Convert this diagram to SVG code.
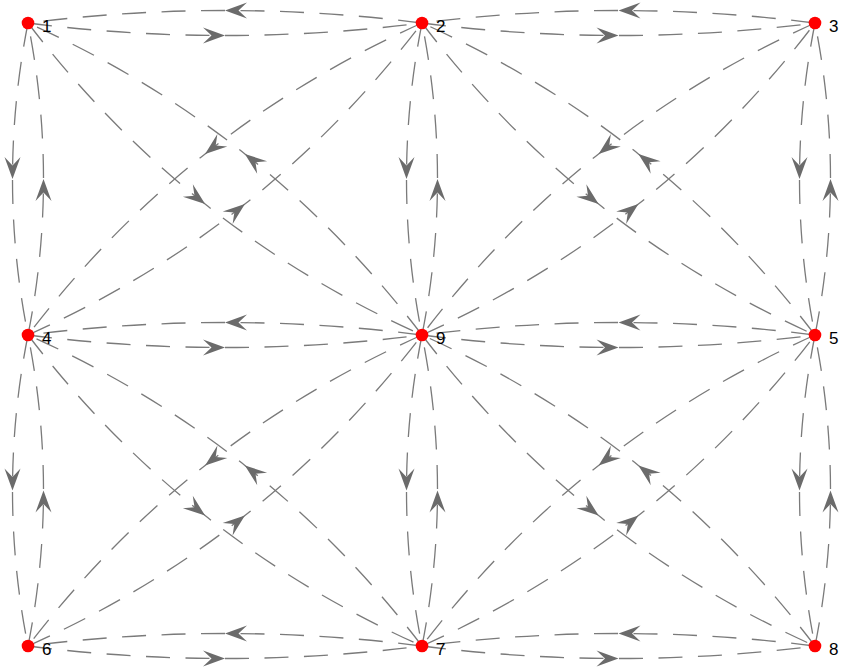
<svg xmlns="http://www.w3.org/2000/svg" width="842" height="669" viewBox="0 0 842 669">
<style>
.e{fill:none;stroke:#7a7a7a;stroke-width:1.3;stroke-dasharray:24 15.5;marker-mid:url(#ah)}
.n{fill:#ff0000}
.l{font-family:"Liberation Sans",Arial,sans-serif;font-size:17px;fill:#000}
</style>
<defs>
<marker id="ah" markerUnits="userSpaceOnUse" markerWidth="26" markerHeight="20" viewBox="-24 -10 26 20" refX="0" refY="0" orient="auto" overflow="visible">
<path d="M0,0 L-22,-8 L-13.5,0 L-22,8 Z" fill="#6b6b6b"/>
</marker>
</defs>
<rect width="842" height="669" fill="#ffffff"/>
<g id="connectors">
<path class="e" d="M28,23 Q126.5,35.5 225,35.5 Q323.5,35.5 422,23"/>
<path class="e" d="M422,23 Q323.5,10.5 225,10.5 Q126.5,10.5 28,23"/>
<path class="e" d="M422,23 Q520.25,35.5 618.5,35.5 Q716.75,35.5 815,23"/>
<path class="e" d="M815,23 Q716.75,10.5 618.5,10.5 Q520.25,10.5 422,23"/>
<path class="e" d="M28,335 Q126.5,347.5 225,347.5 Q323.5,347.5 422,335"/>
<path class="e" d="M422,335 Q323.5,322.5 225,322.5 Q126.5,322.5 28,335"/>
<path class="e" d="M422,335 Q520.25,347.5 618.5,347.5 Q716.75,347.5 815,335"/>
<path class="e" d="M815,335 Q716.75,322.5 618.5,322.5 Q520.25,322.5 422,335"/>
<path class="e" d="M28,646 Q126.5,658.5 225,658.5 Q323.5,658.5 422,646"/>
<path class="e" d="M422,646 Q323.5,633.5 225,633.5 Q126.5,633.5 28,646"/>
<path class="e" d="M422,646 Q520.25,658.5 618.5,658.5 Q716.75,658.5 815,646"/>
<path class="e" d="M815,646 Q716.75,633.5 618.5,633.5 Q520.25,633.5 422,646"/>
<path class="e" d="M28,23 Q12.5,101 12.5,179 Q12.5,257 28,335"/>
<path class="e" d="M28,335 Q43.5,257 43.5,179 Q43.5,101 28,23"/>
<path class="e" d="M28,335 Q12.5,412.75 12.5,490.5 Q12.5,568.25 28,646"/>
<path class="e" d="M28,646 Q43.5,568.25 43.5,490.5 Q43.5,412.75 28,335"/>
<path class="e" d="M422,23 Q406.5,101 406.5,179 Q406.5,257 422,335"/>
<path class="e" d="M422,335 Q437.5,257 437.5,179 Q437.5,101 422,23"/>
<path class="e" d="M422,335 Q406.5,412.75 406.5,490.5 Q406.5,568.25 422,646"/>
<path class="e" d="M422,646 Q437.5,568.25 437.5,490.5 Q437.5,412.75 422,335"/>
<path class="e" d="M815,23 Q799.5,101 799.5,179 Q799.5,257 815,335"/>
<path class="e" d="M815,335 Q830.5,257 830.5,179 Q830.5,101 815,23"/>
<path class="e" d="M815,335 Q799.5,412.75 799.5,490.5 Q799.5,568.25 815,646"/>
<path class="e" d="M815,646 Q830.5,568.25 830.5,490.5 Q830.5,412.75 815,335"/>
<path class="e" d="M28,23 Q106.6,126.1 205.1,204.1 Q303.6,282.1 422,335"/>
<path class="e" d="M422,335 Q343.4,231.9 244.9,153.9 Q146.4,75.9 28,23"/>
<path class="e" d="M422,23 Q303.6,75.9 205.1,153.9 Q106.6,231.9 28,335"/>
<path class="e" d="M28,335 Q146.4,282.1 244.9,204.1 Q343.4,126.1 422,23"/>
<path class="e" d="M422,23 Q500.35,126.1 598.6,204.1 Q696.85,282.1 815,335"/>
<path class="e" d="M815,335 Q736.65,231.9 638.4,153.9 Q540.15,75.9 422,23"/>
<path class="e" d="M815,23 Q696.85,75.9 598.6,153.9 Q500.35,231.9 422,335"/>
<path class="e" d="M422,335 Q540.15,282.1 638.4,204.1 Q736.65,126.1 815,23"/>
<path class="e" d="M28,335 Q106.6,437.85 205.1,515.6 Q303.6,593.35 422,646"/>
<path class="e" d="M422,646 Q343.4,543.15 244.9,465.4 Q146.4,387.65 28,335"/>
<path class="e" d="M422,335 Q303.6,387.65 205.1,465.4 Q106.6,543.15 28,646"/>
<path class="e" d="M28,646 Q146.4,593.35 244.9,515.6 Q343.4,437.85 422,335"/>
<path class="e" d="M422,335 Q500.35,437.85 598.6,515.6 Q696.85,593.35 815,646"/>
<path class="e" d="M815,646 Q736.65,543.15 638.4,465.4 Q540.15,387.65 422,335"/>
<path class="e" d="M815,335 Q696.85,387.65 598.6,465.4 Q500.35,543.15 422,646"/>
<path class="e" d="M422,646 Q540.15,593.35 638.4,515.6 Q736.65,437.85 815,335"/>
</g>
<g id="node1"><circle class="n" cx="28" cy="23" r="6.3"/><text class="l" x="42" y="32">1</text></g>
<g id="node2"><circle class="n" cx="422" cy="23" r="6.3"/><text class="l" x="436" y="32">2</text></g>
<g id="node3"><circle class="n" cx="815" cy="23" r="6.3"/><text class="l" x="829" y="32">3</text></g>
<g id="node4"><circle class="n" cx="28" cy="335" r="6.3"/><text class="l" x="42" y="344">4</text></g>
<g id="node9"><circle class="n" cx="422" cy="335" r="6.3"/><text class="l" x="436" y="344">9</text></g>
<g id="node5"><circle class="n" cx="815" cy="335" r="6.3"/><text class="l" x="829" y="344">5</text></g>
<g id="node6"><circle class="n" cx="28" cy="646" r="6.3"/><text class="l" x="42" y="655">6</text></g>
<g id="node7"><circle class="n" cx="422" cy="646" r="6.3"/><text class="l" x="436" y="655">7</text></g>
<g id="node8"><circle class="n" cx="815" cy="646" r="6.3"/><text class="l" x="829" y="655">8</text></g>
</svg>
